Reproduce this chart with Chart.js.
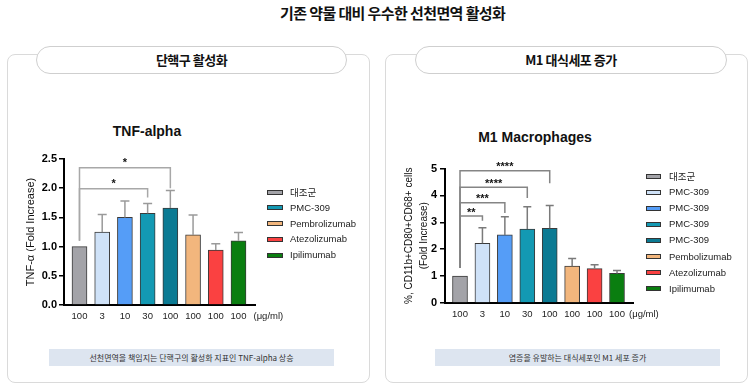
<!DOCTYPE html>
<html>
<head>
<meta charset="utf-8">
<script src="https://cdn.jsdelivr.net/npm/chart.js@4.4.1/dist/chart.umd.min.js"></script>
<style>
  body { margin: 0; width: 753px; height: 390px; background: #fff; position: relative; overflow: hidden;
         font-family: 'Noto Sans CJK KR', 'Liberation Sans', sans-serif; color: #111; }
  .abs { position: absolute; }
  .main-title { left: 280px; top: 3px; line-height: 20px; white-space: nowrap; font-size: 15px; font-weight: 700; letter-spacing: -0.6px; }
  .panel { top: 54px; width: 361px; height: 327px; border: 1px solid #dadada; border-radius: 8px; }
  .pill { top: 46px; height: 26px; border: 1px solid #cfcfcf; border-radius: 14px; background: #fff; text-align: center;
          line-height: 26px; font-size: 13px; font-weight: 700; letter-spacing: -0.5px; }
  .chart-title { font-family: 'Liberation Sans', Arial, sans-serif; font-weight: 700; font-size: 14px; width: 200px;
                 text-align: center; line-height: 16px; }
  .caption { top: 349px; height: 17px; background: #dde5f0; text-align: center; font-size: 8px; line-height: 17px; color: #333; }
  .legend { font-family: 'Liberation Sans', Arial, sans-serif; font-size: 9.5px; color: #222; }
  .legend .row { position: absolute; left: 0; white-space: nowrap; height: 12px; line-height: 12px; }
  .legend .sw { position: absolute; top: 3.5px; height: 3px; border: 1px solid #333; }
  .legend .kr { font-family: 'Noto Sans CJK KR', sans-serif; }
  canvas { position: absolute; }
</style>
</head>
<body>
<div class="abs main-title">기존 약물 대비 우수한 선천면역 활성화</div>

<div class="abs panel" style="left:7px"></div>
<div class="abs panel" style="left:385px"></div>
<div class="abs pill" style="left:36px;width:309px">단핵구 활성화</div>
<div class="abs pill" style="left:415px;width:310px">M1 대식세포 증가</div>

<div class="abs chart-title" style="left:47px;top:123px">TNF-alpha</div>
<div class="abs chart-title" style="left:435px;top:129px">M1 Macrophages</div>

<canvas id="tnfChart" width="300" height="190" style="left:0;top:140px"></canvas>
<canvas id="m1Chart" width="300" height="190" style="left:376px;top:140px"></canvas>

<div class="abs legend" id="tnfLegend" style="left:267px;top:186px"></div>
<div class="abs legend" id="m1Legend" style="left:646px;top:170px"></div>

<div class="abs caption" style="left:49px;width:285px">선천면역을 책임지는 단핵구의 활성화 지표인 TNF-alpha 상승</div>
<div class="abs caption" style="left:435px;width:285px">염증을 유발하는 대식세포인 M1 세포 증가</div>

<script>
// ---- data ----
const DOSE_LABELS = ['100', '3', '10', '30', '100', '100', '100', '100'];
const DOSE_UNIT = '(μg/ml)';

// TNF-alpha (fold increase), mean and top of error bar
const TNF_MEAN = [1.00, 1.25, 1.50, 1.57, 1.66, 1.20, 0.94, 1.10];
const TNF_UPPER = [null, 1.55, 1.78, 1.74, 1.96, 1.54, 1.05, 1.24];
// significance brackets: from control (0) to bar "to"
const TNF_SIG = [
  { to: 3, y: 1.99, end: 1.84, text: '*' },
  { to: 4, y: 2.35, end: 2.00, text: '*' }
];
const TNF_SIG_BASE = 1.10;
const TNF_LEGEND = ['대조군', 'PMC-309', 'Pembrolizumab', 'Atezolizumab', 'Ipilimumab'];

// M1 macrophages (fold increase)
const M1_MEAN = [1.00, 2.22, 2.53, 2.75, 2.78, 1.37, 1.28, 1.10];
const M1_UPPER = [null, 2.80, 3.21, 3.58, 3.62, 1.65, 1.42, 1.21];
const M1_SIG = [
  { to: 1, y: 3.23, end: 3.06, text: '**' },
  { to: 2, y: 3.73, end: 3.35, text: '***' },
  { to: 3, y: 4.30, end: 3.90, text: '****' },
  { to: 4, y: 4.92, end: 4.45, text: '****' }
];
const M1_SIG_BASE = 1.30;
const M1_LEGEND = ['대조군', 'PMC-309', 'PMC-309', 'PMC-309', 'PMC-309', 'Pembolizumab', 'Atezolizumab', 'Ipilimumab'];

// colours
const GRAY = '#a3a3a8', LIGHT = '#cfe2f8', BLUE = '#559df7', TEAL = '#1399b3', DTEAL = '#0b7a93',
      PEACH = '#f2b67d', RED = '#fa4141', GREEN = '#0a7e10';
const BAR_COLORS = [GRAY, LIGHT, BLUE, TEAL, DTEAL, PEACH, RED, GREEN];
const TNF_LEGEND_COLORS = [GRAY, TEAL, PEACH, RED, GREEN];
const M1_LEGEND_COLORS = BAR_COLORS;

Chart.defaults.font.family = "'Liberation Sans', Arial, sans-serif";

// error bars, significance brackets and the unit label after the dose ticks
const annotPlugin = {
  id: 'annot',
  afterDatasetsDraw(chart, args, o) {
    const { ctx, scales: { x, y } } = chart;
    ctx.save();
    ctx.lineWidth = 1.5;
    ctx.strokeStyle = o.errColor;
    o.upper.forEach((u, i) => {
      if (u == null) return;
      const px = x.getPixelForValue(i);
      const y0 = y.getPixelForValue(o.mean[i]);
      const y1 = y.getPixelForValue(u);
      ctx.beginPath();
      ctx.moveTo(px, y0);
      ctx.lineTo(px, y1);
      ctx.moveTo(px - o.cap / 2, y1);
      ctx.lineTo(px + o.cap / 2, y1);
      ctx.stroke();
    });

    const x0 = x.getPixelForValue(0);
    o.sig.forEach(s => {
      const xr = x.getPixelForValue(s.to);
      const yy = y.getPixelForValue(s.y);
      ctx.strokeStyle = o.sigColor;
      ctx.beginPath();
      ctx.moveTo(x0, y.getPixelForValue(o.sigBase));
      ctx.lineTo(x0, yy);
      ctx.lineTo(xr, yy);
      ctx.lineTo(xr, y.getPixelForValue(s.end));
      ctx.stroke();
      ctx.fillStyle = '#111';
      ctx.font = "bold 11px 'Liberation Sans'";
      ctx.textAlign = 'center';
      ctx.textBaseline = 'alphabetic';
      ctx.fillText(s.text, (x0 + xr) / 2, yy - o.starGap + 6.5);
    });

    ctx.fillStyle = '#222';
    ctx.font = "9.5px 'Liberation Sans'";
    ctx.textAlign = 'left';
    ctx.textBaseline = 'middle';
    ctx.fillText(DOSE_UNIT, x.getPixelForValue(DOSE_LABELS.length - 1) + o.unitDx, chart.chartArea.bottom + 11.5);
    ctx.restore();
  }
};

function makeChart(id, o) {
  return new Chart(document.getElementById(id), {
    type: 'bar',
    data: {
      datasets: [{
        data: o.mean.map((v, i) => ({ x: i, y: v })),
        backgroundColor: BAR_COLORS,
        borderColor: '#3a3a3a',
        borderWidth: 1,
        barThickness: 15
      }]
    },
    options: {
      responsive: false,
      animation: false,
      devicePixelRatio: 1,
      layout: { padding: o.pad },
      plugins: {
        legend: { display: false },
        tooltip: { enabled: false },
        annot: o.annot
      },
      scales: {
        x: {
          type: 'linear',
          offset: false,
          min: o.xMin,
          max: o.xMax,
          afterBuildTicks: s => { s.ticks = DOSE_LABELS.map((_, i) => ({ value: i })); },
          afterFit: s => { s.height = o.xH; },
          grid: { display: false, drawTicks: false },
          border: { color: '#000', width: 2 },
          ticks: { callback: v => DOSE_LABELS[v], padding: 6, color: '#222', font: { size: 9.5 }, maxRotation: 0, autoSkip: false }
        },
        y: {
          min: 0,
          max: o.yMax,
          afterFit: s => { s.width = o.yW; },
          grid: { drawOnChartArea: false, tickLength: 5, color: '#000', lineWidth: 1.5 },
          border: { color: '#000', width: 2 },
          ticks: { stepSize: o.step, callback: o.fmt, padding: o.tickPad, color: '#000', font: { size: 11, weight: 'bold' } },
          title: { display: true, text: o.yTitle, color: '#111', padding: 0, font: { size: o.titleSize, lineHeight: o.titleLH } }
        }
      }
    },
    plugins: [annotPlugin]
  });
}

makeChart('tnfChart', {
  mean: TNF_MEAN,
  pad: { left: 24.4, top: 19, right: 45, bottom: 0 },
  xMin: -0.682, xMax: 7.727, xH: 25,
  yMax: 2.5, step: 0.5, yW: 39.6, tickPad: 2,
  fmt: v => v.toFixed(1),
  yTitle: 'TNF-α (Fold Increase)', titleSize: 11, titleLH: 1.2,
  annot: { mean: TNF_MEAN, upper: TNF_UPPER, sig: TNF_SIG, sigBase: TNF_SIG_BASE,
           errColor: '#9a9a9a', sigColor: '#a8a8a8', cap: 9, starGap: 8, unitDx: 15 }
});

makeChart('m1Chart', {
  mean: M1_MEAN,
  pad: { left: 25.5, top: 28.5, right: 43, bottom: 0 },
  xMin: -0.669, xMax: 7.713, xH: 27,
  yMax: 5, step: 1, yW: 43.5, tickPad: 3,
  fmt: v => String(v),
  yTitle: ['%, CD11b+CD80+CD68+ cells', '(Fold Increase)'], titleSize: 10, titleLH: 1.5,
  annot: { mean: M1_MEAN, upper: M1_UPPER, sig: M1_SIG, sigBase: M1_SIG_BASE,
           errColor: '#7a7a7a', sigColor: '#858585', cap: 8, starGap: 7, unitDx: 12 }
});

// legends
function buildLegend(elId, names, colors, gap, swW) {
  const el = document.getElementById(elId);
  names.forEach((name, i) => {
    const row = document.createElement('div');
    row.className = 'row';
    row.style.top = (i * gap) + 'px';
    const sw = document.createElement('span');
    sw.className = 'sw';
    sw.style.width = (swW - 2) + 'px';
    sw.style.background = colors[i];
    const tx = document.createElement('span');
    tx.textContent = name;
    tx.style.marginLeft = '23px';
    if (/[가-힣]/.test(name)) tx.className = 'kr';
    row.appendChild(sw);
    row.appendChild(tx);
    el.appendChild(row);
  });
}
buildLegend('tnfLegend', TNF_LEGEND, TNF_LEGEND_COLORS, 15.8, 16);
buildLegend('m1Legend', M1_LEGEND, M1_LEGEND_COLORS, 16.1, 15);
</script>
</body>
</html>
